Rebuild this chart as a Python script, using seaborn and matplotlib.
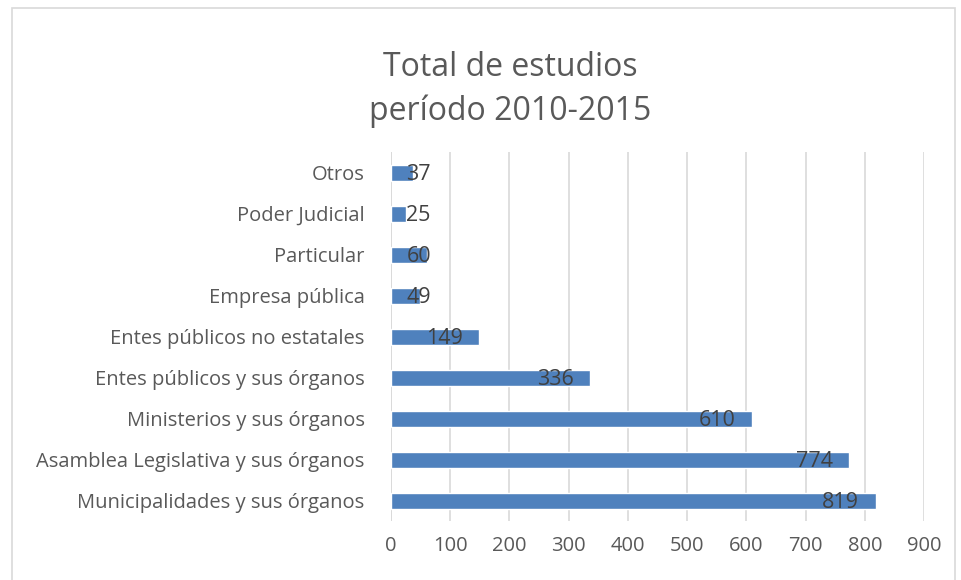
import numpy as np
import pandas as pd
import matplotlib
matplotlib.use("Agg")
import matplotlib.pyplot as plt
import seaborn as sns
from matplotlib.patches import Rectangle

# ── Data ──────────────────────────────────────────────────────────────────────
categorias = [
    "Otros",
    "Poder Judicial",
    "Particular",
    "Empresa pública",
    "Entes públicos no estatales",
    "Entes públicos y sus órganos",
    "Ministerios y sus órganos",
    "Asamblea Legislativa y sus órganos",
    "Municipalidades y sus órganos",
]
totales = [37, 25, 60, 49, 149, 336, 610, 774, 819]
x_ticks = [0, 100, 200, 300, 400, 500, 600, 700, 800, 900]

BAR_COLOR  = "#4F81BD"
TEXT_COLOR = "#404040"
AXIS_TEXT  = "#595959"

# ── Plot ──────────────────────────────────────────────────────────────────────
sns.set_theme(style="white")
plt.rcParams["font.family"] = ["Open Sans", "DejaVu Sans"]

df = pd.DataFrame({"categoria": categorias, "total": totales})

fig = plt.figure(figsize=(9.61, 5.8), dpi=100)
ax = fig.add_axes([0.4069, 0.1017, 0.5546, 0.6362])

sns.barplot(data=df, x="total", y="categoria", color=BAR_COLOR,
            width=0.39, saturation=1, ax=ax, orient="h")

ax.set_xlim(0, 900)
ax.set_ylim(8.5, -0.5)
ax.set_xticks(x_ticks)
ax.set_xticklabels([str(t) for t in x_ticks], fontsize=14.5, color=AXIS_TEXT)
ax.tick_params(axis="y", labelsize=14.5, labelcolor=AXIS_TEXT, length=0, pad=19)
ax.tick_params(axis="x", length=0, pad=11)
ax.set_xlabel("")
ax.set_ylabel("")

ax.grid(axis="x", color="#D9D9D9", linewidth=1.2)
ax.set_axisbelow(True)
for s in ax.spines.values():
    s.set_visible(False)
ax.axvline(0, color="#D9D9D9", linewidth=1.2, zorder=0)

# labels at inside end; short bars get the label pushed out from the axis
for i, v in enumerate(totales):
    if v < 100:
        ax.annotate(str(v), xy=(0, i), xytext=(11, -1.5), textcoords="offset points",
                    ha="left", va="center", fontsize=15.5, color=TEXT_COLOR)
    else:
        ax.annotate(str(v), xy=(v, i), xytext=(-12, -1.5), textcoords="offset points",
                    ha="right", va="center", fontsize=15.5, color=TEXT_COLOR)

fig.text(510 / 961, 1 - 68 / 580, "Total de estudios", ha="center", va="center",
         fontsize=23, color=AXIS_TEXT)
fig.text(510 / 961, 1 - 111 / 580, "período 2010-2015", ha="center", va="center",
         fontsize=23, color=AXIS_TEXT)

# chart border
fig.patches.append(Rectangle((12 / 961, -0.01), 943 / 961, 1 - 8 / 580 + 0.01,
                             transform=fig.transFigure, fill=False,
                             edgecolor="#D9D9D9", linewidth=1.2))

fig.savefig("out.png", dpi=100)
